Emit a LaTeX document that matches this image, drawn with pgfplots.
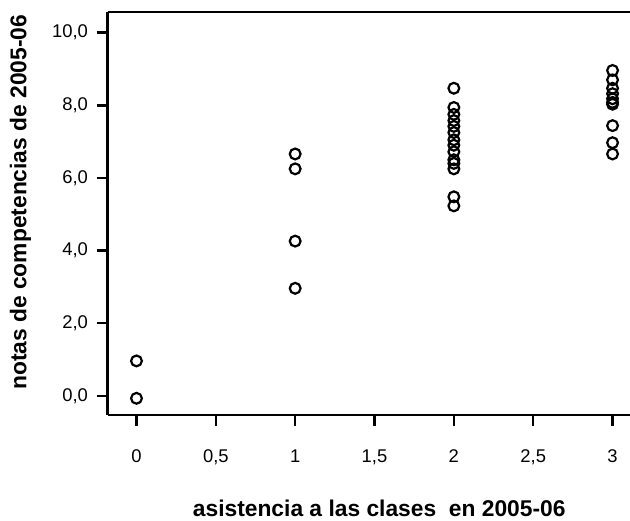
\documentclass[border=0pt]{standalone}
\usepackage{fontspec}
\setmainfont{Liberation Sans}
\usepackage{pgfplots}
\pgfplotsset{compat=1.18}
\begin{document}
\begin{tikzpicture}
\path[use as bounding box] (-53.8pt,-52.5pt) rectangle (261.2pt,207.5pt);
\begin{axis}[
  at={(0,0)}, anchor=south west,
  scale only axis,
  width=261.2pt, height=201.5pt,
  xmin=-0.182, xmax=3.11,
  ymin=-0.53, ymax=10.57,
  axis x line*=bottom, axis y line*=left,
  axis line style={line width=1.2pt},
  xtick={0,0.5,1,1.5,2,2.5,3},
  xticklabels={0,{0,5},1,{1,5},2,{2,5},3},
  ytick={0,2,4,6,8,10},
  yticklabels={{0,0},{2,0},{4,0},{6,0},{8,0},{10,0}},
  tick align=outside,
  major tick length=5.5pt,
  tick style={line width=1.2pt, black},
  tick label style={font=\fontsize{9.2}{11}\selectfont},
  xticklabel style={yshift=-8.5pt},
  yticklabel style={xshift=-0.8pt},
  xlabel={asistencia a las clases\ \ en 2005-06},
  ylabel={notas de competencias de 2005-06},
  every axis x label/.style={at={(rel axis cs:0.52,0)}, yshift=-46.5pt, anchor=center, font=\fontsize{11.4}{13}\selectfont\bfseries},
  every axis y label/.style={at={(rel axis cs:0,0.528)}, xshift=-43.5pt, anchor=center, rotate=90, font=\fontsize{11.4}{13}\selectfont\bfseries},
  clip=false,
]
\addplot[only marks, mark=o, mark size=2.7pt, mark options={line width=1.1pt, black}] coordinates {
  (0,0.96) (0,-0.07)
  (1,6.66) (1,6.25) (1,4.26) (1,2.96)
  (2,8.47) (2,7.94) (2,7.75) (2,7.58) (2,7.42) (2,7.25) (2,7.05) (2,6.90) (2,6.72) (2,6.50) (2,6.40) (2,6.25) (2,5.48) (2,5.23)
  (3,8.96) (3,8.70) (3,8.47) (3,8.32) (3,8.18) (3,8.08) (3,8.03) (3,7.44) (3,6.97) (3,6.66)
};
\draw[line width=1.2pt] (rel axis cs:0,1) -- (rel axis cs:1.01,1);
\end{axis}
\end{tikzpicture}
\end{document}
